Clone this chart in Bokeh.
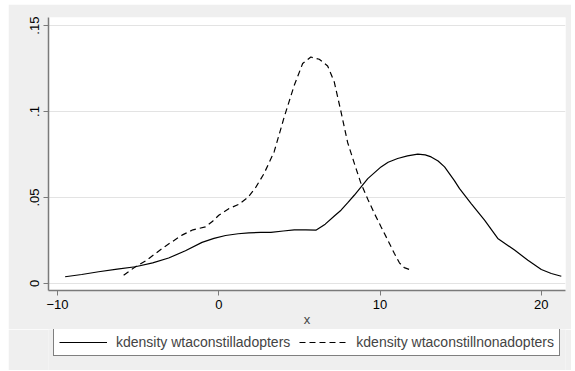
from bokeh.plotting import figure
from bokeh.layouts import column
from bokeh.models import FixedTicker, CustomJSTickFormatter, Legend, LegendItem, Range1d
from bokeh.embed import file_html
from bokeh.resources import INLINE

# Data (kernel density estimates)
adopt_x = [-9.53, -8.5, -7.45, -6.3, -5.17, -4.1, -3.11, -2.07, -1.04, -0.3, 0.42, 1.2, 1.86,
           2.6, 3.23, 4.0, 4.68, 5.4, 6.02, 6.6, 7.2, 7.58, 8.0, 8.4, 9.24, 10.06, 10.5, 11.09,
           11.7, 12.34, 12.8, 13.17, 13.6, 14.0, 14.6, 14.93, 15.65, 16.48, 17.3, 18.34, 19.17,
           20.0, 20.62, 21.24]
adopt_y = [0.0039, 0.0052, 0.0068, 0.0083, 0.0097, 0.0120, 0.0148, 0.0190, 0.0239, 0.0262, 0.0279,
           0.0289, 0.0294, 0.0297, 0.0297, 0.0305, 0.0312, 0.0312, 0.0310, 0.0345, 0.0395, 0.0426,
           0.0470, 0.0513, 0.0610, 0.0678, 0.0705, 0.0727, 0.0742, 0.0752, 0.0748, 0.0736, 0.0712,
           0.0678, 0.0600, 0.0552, 0.0465, 0.0368, 0.0262, 0.0194, 0.0135, 0.0081, 0.0058, 0.0042]

nonadopt_x = [-5.9, -5.17, -4.55, -3.93, -3.31, -2.28, -1.6, -0.83, -0.4, 0.0, 0.62, 1.24, 1.8,
              2.3, 2.81, 3.43, 4.06, 4.68, 5.2, 5.71, 6.23, 6.75, 7.16, 7.58, 7.99, 8.4, 8.82,
              9.24, 9.65, 10.06, 10.48, 10.89, 11.2, 11.5, 11.93]
nonadopt_y = [0.0048, 0.0097, 0.0130, 0.0174, 0.0217, 0.0281, 0.0312, 0.0329, 0.0360, 0.0397, 0.0435,
              0.0460, 0.0500, 0.0560, 0.0640, 0.0765, 0.0969, 0.1153, 0.1279, 0.1317, 0.1304, 0.1265,
              0.1172, 0.0998, 0.0820, 0.0700, 0.0581, 0.0490, 0.0407, 0.0330, 0.0252, 0.0174, 0.0120,
              0.0092, 0.0077]

x_ticks = [-10, 0, 10, 20]
y_ticks = [0, 0.05, 0.1, 0.15]
series_labels = ["kdensity wtaconstilladopters", "kdensity wtaconstillnonadopters"]

BG = "#efefef"
AX = "#7a7a7a"
FONT = "Liberation Sans"

p = figure(frame_width=517, frame_height=273,
           output_backend="svg", toolbar_location=None,
           x_range=Range1d(-10.56, 21.5), y_range=Range1d(-0.0041, 0.1547),
           min_border_left=40, min_border_right=6, min_border_top=13, min_border_bottom=30,
           margin=(4, 0, 0, 8))
p.background_fill_color = "white"
p.border_fill_color = BG
p.outline_line_color = None

p.xgrid.visible = False
p.ygrid.grid_line_color = "#e3e3e3"
p.ygrid.grid_line_width = 1

p.xaxis.ticker = FixedTicker(ticks=x_ticks)
p.yaxis.ticker = FixedTicker(ticks=y_ticks)
p.yaxis.formatter = CustomJSTickFormatter(code="""
    if (tick == 0) { return "0"; }
    let s = tick.toFixed(2).replace(/^0/, "");
    s = s.replace(/0$/, "");
    return s;
""")
p.yaxis.major_label_orientation = "vertical"
p.xaxis.axis_label = "x"

for ax in (p.xaxis, p.yaxis):
    ax.axis_line_color = AX
    ax.axis_line_width = 1.5
    ax.major_tick_line_color = AX
    ax.major_tick_out = 5
    ax.major_tick_in = 0
    ax.minor_tick_line_color = None
    ax.major_label_text_font = FONT
    ax.major_label_text_font_size = "13px"
    ax.major_label_text_color = "black"
    ax.major_label_standoff = 4
p.xaxis.axis_label_text_font = FONT
p.xaxis.axis_label_text_font_size = "13px"
p.xaxis.axis_label_text_font_style = "normal"
p.xaxis.axis_label_standoff = 0

r1 = p.line(adopt_x, adopt_y, line_color="black", line_width=1.2)
r2 = p.line(nonadopt_x, nonadopt_y, line_color="black", line_width=1.2, line_dash="6 4")

# Legend strip below the plot (same series, drawn out of view so only the key shows)
q = figure(width=563, height=41, output_backend="svg", toolbar_location=None,
           x_axis_type=None, y_axis_type=None,
           x_range=Range1d(-10.56, 21.5), y_range=Range1d(1.0, 2.0),
           min_border=0, margin=(0, 0, 0, 8))
q.background_fill_color = BG
q.border_fill_color = BG
q.outline_line_color = None
q.grid.visible = False
k1 = q.line(adopt_x, adopt_y, line_color="black", line_width=1.2)
k2 = q.line(nonadopt_x, nonadopt_y, line_color="black", line_width=1.2, line_dash="6 4")

legend = Legend(items=[LegendItem(label=series_labels[0], renderers=[k1]),
                       LegendItem(label=series_labels[1], renderers=[k2])],
                orientation="horizontal", location=(5, 14), margin=0,
                padding=5, spacing=9, label_standoff=9, glyph_width=48, glyph_height=12,
                label_height=12, label_text_font=FONT, label_text_font_size="14px",
                border_line_color="black", border_line_width=1,
                background_fill_color="white", background_fill_alpha=1.0)
q.add_layout(legend, "center")

layout = column(p, q, spacing=0)
open("out.html", "w").write(file_html(layout, INLINE))
